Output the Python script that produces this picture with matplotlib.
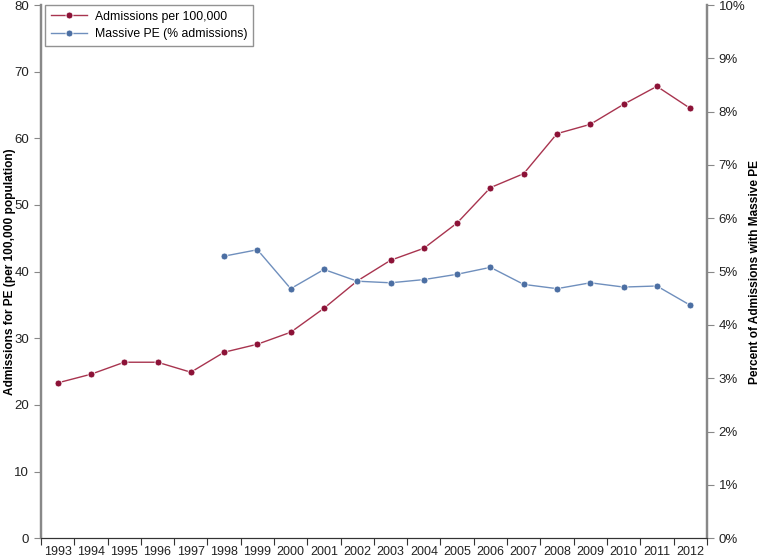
import numpy as np
import matplotlib.pyplot as plt
from matplotlib.ticker import FixedLocator, NullFormatter, FixedFormatter

plt.rcParams['font.family'] = ['Liberation Sans', 'DejaVu Sans']

# data
years = list(range(1993, 2013))
admissions = [23.3, 24.6, 26.4, 26.4, 24.9, 27.9, 29.1, 30.9, 34.5, 38.6,
              41.7, 43.5, 47.3, 52.6, 54.7, 60.7, 62.1, 65.1, 67.8, 64.5]
massive_years = list(range(1998, 2013))
massive_pct = [5.29, 5.41, 4.68, 5.04, 4.82, 4.79, 4.85, 4.95, 5.08, 4.76,
               4.68, 4.79, 4.71, 4.73, 4.37]

red = '#8c1237'
blue = '#4c6fa3'

fig = plt.figure(figsize=(7.6, 5.6), dpi=100)
ax = fig.add_axes([0.054, 0.039, 0.876, 0.952])
ax2 = ax.twinx()

x_red = np.arange(len(years)) + 0.5
x_blue = np.array([years.index(y) for y in massive_years]) + 0.5

l1, = ax.plot(x_red, admissions, color='#a8344f', lw=1.0, marker='o', ms=5,
              mfc=red, mec='white', mew=0.6, label='Admissions per 100,000')
l2, = ax2.plot(x_blue, massive_pct, color='#6f8fbd', lw=1.0, marker='o', ms=5,
               mfc=blue, mec='white', mew=0.6, label='Massive PE (% admissions)')

ax.set_xlim(0, len(years))
ax.set_ylim(0, 80)
ax2.set_ylim(0, 10)

ax.xaxis.set_major_locator(FixedLocator(np.arange(len(years) + 1)))
ax.xaxis.set_major_formatter(NullFormatter())
ax.xaxis.set_minor_locator(FixedLocator(x_red))
ax.xaxis.set_minor_formatter(FixedFormatter([str(y) for y in years]))
ax.tick_params(axis='x', which='minor', length=0, labelsize=9, pad=6, labelcolor='#222222')
ax.tick_params(axis='x', which='major', length=5, color='#333333', direction='out')

ax.set_yticks(np.arange(0, 81, 10))
ax2.set_yticks(np.arange(0, 11, 1))
ax2.set_yticklabels([f'{v}%' for v in range(0, 11)])
for a in (ax, ax2):
    a.tick_params(axis='y', length=5, color='#888888', labelsize=9.5, labelcolor='#222222')
    a.spines['top'].set_visible(False)
    a.spines['left'].set_color('#888888')
    a.spines['left'].set_linewidth(1.6)
    a.spines['right'].set_color('#888888')
    a.spines['right'].set_linewidth(1.6)
    a.spines['bottom'].set_color('#333333')
    a.spines['bottom'].set_linewidth(0.8)

ax.set_ylabel('Admissions for PE (per 100,000 population)', fontsize=8.6,
              fontweight='bold')
ax.yaxis.set_label_coords(-0.038, 0.5)
ax2.set_ylabel('Percent of Admissions with Massive PE', fontsize=8.6,
               fontweight='bold', rotation=90)
ax2.yaxis.set_label_coords(1.063, 0.5)

leg = ax.legend(handles=[l1, l2], loc='upper left', bbox_to_anchor=(0.006, 1.0),
                fontsize=8.8, frameon=True, fancybox=False, borderaxespad=0,
                handlelength=3.0, handletextpad=0.6, borderpad=0.45,
                labelspacing=0.45)
leg.get_frame().set_edgecolor('#777777')
leg.get_frame().set_linewidth(1.0)

fig.savefig('out.png', dpi=100)
